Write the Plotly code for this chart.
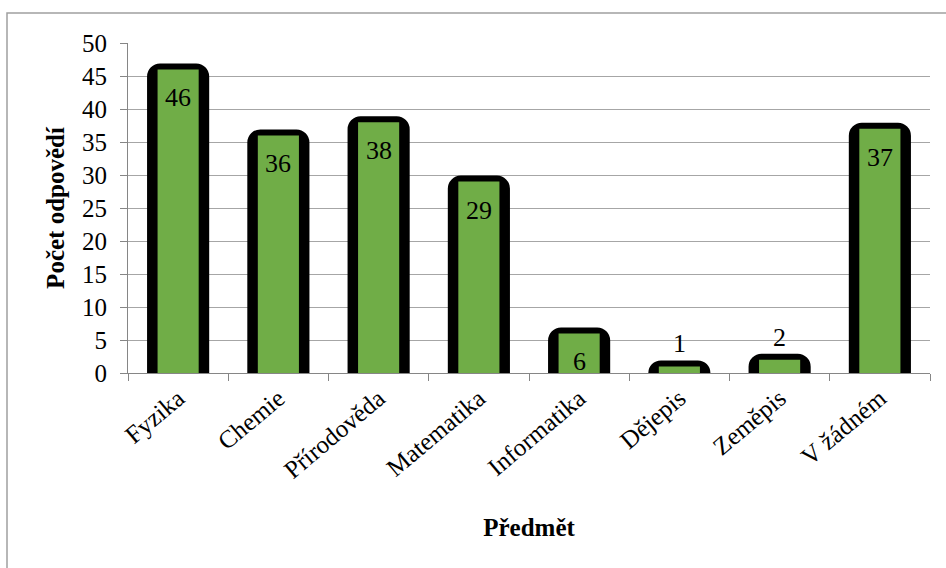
import plotly.graph_objects as go

categories = ["Fyzika", "Chemie", "Přírodověda", "Matematika", "Informatika", "Dějepis", "Zeměpis", "V žádném"]
values = [46, 36, 38, 29, 6, 1, 2, 37]
y_ticks = [0, 5, 10, 15, 20, 25, 30, 35, 40, 45, 50]

FONT = "Times New Roman, Liberation Serif, serif"
W, H = 946, 568
L, R, T, B = 128, 16, 43, 195
pw, ph = W - L - R, H - T - B

fig = go.Figure()
# black rounded outline body
fig.add_trace(go.Bar(
    x=categories, y=values, width=0.5,
    marker=dict(color="black", line=dict(color="black", width=12), cornerradius=7),
    hoverinfo="skip",
))
# green fill
fig.add_trace(go.Bar(
    x=categories, y=values, width=0.41,
    marker=dict(color="#70ad47", line=dict(width=0)),
))

annotations = []
for c, v in zip(categories, values):
    if v >= 5:
        annotations.append(dict(x=c, y=v, xref="x", yref="y", text=str(v), showarrow=False,
                                yanchor="top", yshift=-12,
                                font=dict(family=FONT, size=26, color="black")))
    else:
        annotations.append(dict(x=c, y=v, xref="x", yref="y", text=str(v), showarrow=False,
                                yanchor="bottom", yshift=6,
                                font=dict(family=FONT, size=26, color="black")))

def px_x(p):
    return (p - L) / pw

def px_y(p):
    return (H - B - p) / ph

fig.update_layout(
    width=W, height=H,
    margin=dict(l=L, r=R, t=T, b=B),
    paper_bgcolor="white", plot_bgcolor="white",
    font=dict(family=FONT, size=25, color="black"),
    showlegend=False,
    barmode="overlay",
    annotations=annotations,
    xaxis=dict(
        tickangle=-40, ticks="outside", ticklen=7, tickcolor="#868686",
        showline=True, linecolor="#868686", linewidth=1,
        tickson="boundaries",
        tickfont=dict(family=FONT, size=25, color="black"),
        title=dict(text="<b>Předmět</b>", font=dict(family=FONT, size=25), standoff=36),
    ),
    yaxis=dict(
        range=[0, 50], tickvals=y_ticks, ticks="outside", ticklen=7, tickcolor="#868686",
        showline=True, linecolor="#868686", linewidth=1,
        showgrid=True, gridcolor="#a6a6a6", gridwidth=1, zeroline=False,
        ticklabelstandoff=8,
        tickfont=dict(family=FONT, size=25, color="black"),
        title=dict(text="<b>Počet odpovědí</b>", font=dict(family=FONT, size=25), standoff=10),
    ),
    shapes=[dict(type="rect", xref="paper", yref="paper",
                 x0=px_x(7), x1=px_x(W + 20), y0=px_y(H + 20), y1=px_y(13),
                 line=dict(color="#a0a0a0", width=1.5), fillcolor="rgba(0,0,0,0)", layer="below")],
)

fig.write_html("out.html")
